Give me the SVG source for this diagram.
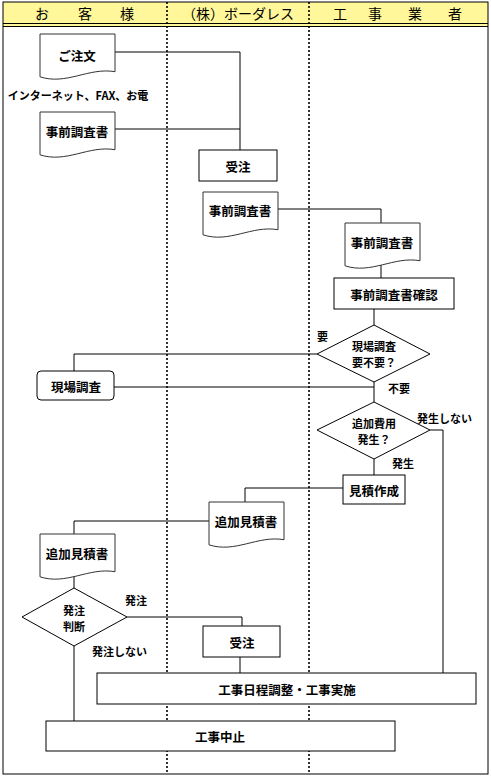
<svg xmlns="http://www.w3.org/2000/svg" xmlns:xlink="http://www.w3.org/1999/xlink" width="491" height="780" viewBox="0 0 491 780">
<style>
  .box{fill:#fff;stroke:#000;stroke-width:1}
  .doc{fill:#fff;stroke:#333;stroke-width:1}
  .t{font-family:"Noto Sans CJK JP","Noto Sans CJK SC",sans-serif;font-weight:bold;font-size:12.5px;fill:#000;text-anchor:middle;dominant-baseline:central}
  .dt{font-family:"Noto Sans CJK JP","Noto Sans CJK SC",sans-serif;font-weight:bold;font-size:11px;fill:#000;text-anchor:middle;dominant-baseline:central}
  .lbl{font-family:"Noto Sans CJK JP","Noto Sans CJK SC",sans-serif;font-weight:bold;font-size:11px;fill:#000;dominant-baseline:central}
  .hd{font-family:"Noto Sans CJK JP","Noto Sans CJK SC",sans-serif;font-size:14px;fill:#000;text-anchor:middle;dominant-baseline:central}
  .ln{fill:none;stroke:#000;stroke-width:1}
  .dot{stroke:#000;stroke-width:1.6;stroke-dasharray:2,2}
</style>
<defs>
  <path id="docshape" d="M0,0 H75 V37.7 C48.75,33.1 26.25,51.5 0,42.8 Z"/>
</defs>
<rect x="0" y="0" width="491" height="780" fill="#fff"/>
<g id="frame">
  <rect x="3" y="2" width="485" height="24" fill="#FFF799"/>
  <rect x="3" y="2" width="485" height="772" fill="none" stroke="#000" stroke-width="1"/>
  <line x1="3" y1="23.5" x2="488" y2="23.5" stroke="#000" stroke-width="1"/>
  <line x1="3" y1="26.5" x2="488" y2="26.5" stroke="#000" stroke-width="1"/>
  <line class="dot" x1="167" y1="2" x2="167" y2="774"/>
  <line class="dot" x1="309" y1="2" x2="309" y2="774"/>
  <text class="hd" x="42" y="13">お</text>
  <text class="hd" x="85" y="13">客</text>
  <text class="hd" x="127" y="13">様</text>
  <text class="hd" x="238" y="13">（株）ボーダレス</text>
  <text class="hd" x="340" y="13">工</text>
  <text class="hd" x="375" y="13">事</text>
  <text class="hd" x="415" y="13">業</text>
  <text class="hd" x="455" y="13">者</text>
</g>
<g id="connectors">
  <path class="ln" d="M115,52 H240 V150"/>
  <path class="ln" d="M115,129 H240"/>
  <path class="ln" d="M278,209 H381 V223"/>
  <path class="ln" d="M381,265 V278"/>
  <path class="ln" d="M374,309 V325"/>
  <path class="ln" d="M317,354 H74 V371"/>
  <path class="ln" d="M114,387 H374"/>
  <path class="ln" d="M374,382 V402"/>
  <path class="ln" d="M430,430 H443 V673"/>
  <path class="ln" d="M374,459 V475"/>
  <path class="ln" d="M343,488 H245 V502"/>
  <path class="ln" d="M209,521 H74 V534"/>
  <path class="ln" d="M74,576 V588"/>
  <path class="ln" d="M127,617 H242 V626"/>
  <path class="ln" d="M240,657 V673"/>
  <path class="ln" d="M74,646 V721"/>
</g>
<g id="labels">
  <text class="lbl" x="78" y="95" text-anchor="middle" font-size="10.5">インターネット、FAX、お電</text>
  <text class="lbl" x="317" y="336">要</text>
  <text class="lbl" x="388" y="388">不要</text>
  <text class="lbl" x="417" y="418">発生しない</text>
  <text class="lbl" x="392" y="463">発生</text>
  <text class="lbl" x="125" y="600">発注</text>
  <text class="lbl" x="92" y="651">発注しない</text>
</g>
<g id="n-order">
  <use xlink:href="#docshape" href="#docshape" class="doc" x="40" y="34"/>
  <text class="t" x="77" y="55">ご注文</text>
</g>
<g id="n-survey-doc-customer">
  <use xlink:href="#docshape" href="#docshape" class="doc" x="40" y="112"/>
  <text class="t" x="77" y="131">事前調査書</text>
</g>
<g id="n-receive1">
  <rect class="box" x="199" y="150" width="78" height="31"/>
  <text class="t" x="238" y="166">受注</text>
</g>
<g id="n-survey-doc-borderless">
  <use xlink:href="#docshape" href="#docshape" class="doc" x="203" y="192"/>
  <text class="t" x="240" y="210">事前調査書</text>
</g>
<g id="n-survey-doc-contractor">
  <use xlink:href="#docshape" href="#docshape" class="doc" x="345" y="223"/>
  <text class="t" x="382" y="242">事前調査書</text>
</g>
<g id="n-survey-check">
  <rect class="box" x="334" y="278" width="120" height="31"/>
  <text class="t" x="394" y="294">事前調査書確認</text>
</g>
<g id="n-need-site">
  <polygon class="box" points="374,325 430,354 374,382 317,354"/>
  <text class="dt" x="374" y="346">現場調査</text>
  <text class="dt" x="374" y="362">要不要？</text>
</g>
<g id="n-site-survey">
  <rect class="box" x="37" y="371" width="77" height="29" rx="4"/>
  <text class="t" x="76" y="386">現場調査</text>
</g>
<g id="n-extra-cost">
  <polygon class="box" points="374,402 430,430 374,459 317,430"/>
  <text class="dt" x="374" y="423">追加費用</text>
  <text class="dt" x="374" y="439">発生？</text>
</g>
<g id="n-estimate">
  <rect class="box" x="343" y="475" width="62" height="29"/>
  <text class="t" x="374" y="490">見積作成</text>
</g>
<g id="n-extra-est-borderless">
  <use xlink:href="#docshape" href="#docshape" class="doc" x="209" y="502"/>
  <text class="t" x="246" y="521">追加見積書</text>
</g>
<g id="n-extra-est-customer">
  <use xlink:href="#docshape" href="#docshape" class="doc" x="40" y="534"/>
  <text class="t" x="77" y="553">追加見積書</text>
</g>
<g id="n-order-decision">
  <polygon class="box" points="74,588 127,617 74,646 22,617"/>
  <text class="dt" x="74" y="610">発注</text>
  <text class="dt" x="74" y="626">判断</text>
</g>
<g id="n-receive2">
  <rect class="box" x="203" y="626" width="77" height="31"/>
  <text class="t" x="242" y="642">受注</text>
</g>
<g id="n-construction">
  <rect class="box" x="97" y="673" width="379" height="31"/>
  <text class="t" x="287" y="689">工事日程調整・工事実施</text>
</g>
<g id="n-cancel">
  <rect class="box" x="46" y="721" width="349" height="30"/>
  <text class="t" x="220" y="736">工事中止</text>
</g>
</svg>
